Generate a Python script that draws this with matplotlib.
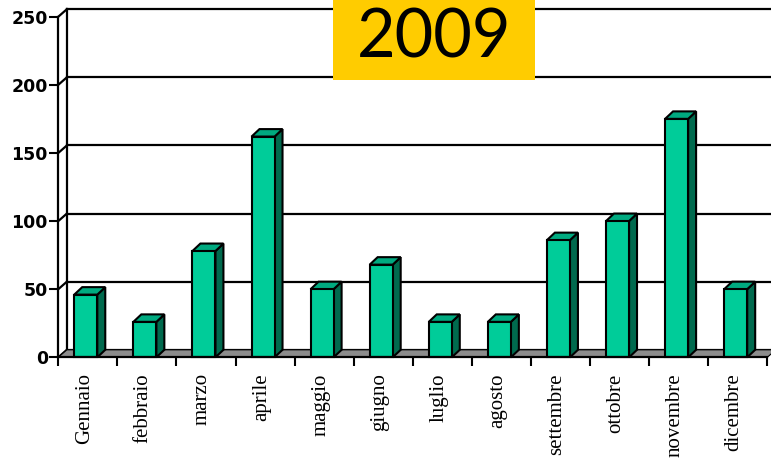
import matplotlib
matplotlib.use("Agg")
import matplotlib.pyplot as plt
from matplotlib.patches import Polygon, Rectangle

months = ["Gennaio", "febbraio", "marzo", "aprile", "maggio", "giugno",
          "luglio", "agosto", "settembre", "ottobre", "novembre", "dicembre"]
values = [46, 26, 78, 162, 50, 68, 26, 26, 86, 100, 175, 50]
y_ticks = [0, 50, 100, 150, 200, 250]
title = "2009"

front_col = "#00CC99"
side_col = "#006A4E"
top_col = "#00AA80"

fig = plt.figure(figsize=(7.71, 4.70), dpi=100)
ax = fig.add_axes([58.3 / 771, (470 - 357.3) / 470, 709 / 771, 340.6 / 470])
ax.set_xlim(0, 12)
ax.set_ylim(0, 250)

# depth offset of the pseudo-3d box
dx, dy = 0.145, 5.5

# back wall gridlines + diagonals
for v in y_ticks:
    ax.plot([dx, 12 + dx], [v + dy, v + dy], color="black", lw=1.6, clip_on=False, zorder=1)
    ax.plot([0, dx], [v, v + dy], color="black", lw=1.6, clip_on=False, zorder=1)
ax.plot([dx, dx], [dy, 250 + dy], color="black", lw=1.6, clip_on=False, zorder=1)

# floor
floor = Polygon([(0, 0), (12, 0), (12 + dx, dy), (dx, dy)], closed=True,
                facecolor="#8C8C8C", edgecolor="black", lw=0.8, clip_on=False, zorder=2)
ax.add_patch(floor)

# bars
bdx = 0.135
for i, v in enumerate(values):
    xl, xr = i + 0.27, i + 0.66
    kw = dict(closed=True, edgecolor="black", lw=1.5, clip_on=False, zorder=3, joinstyle="miter")
    ax.add_patch(Polygon([(xr, 0), (xr + bdx, dy), (xr + bdx, v + dy), (xr, v)], facecolor=side_col, **kw))
    ax.add_patch(Polygon([(xl, v), (xr, v), (xr + bdx, v + dy), (xl + bdx, v + dy)], facecolor=top_col, **kw))
    ax.add_patch(Polygon([(xl, 0), (xr, 0), (xr, v), (xl, v)], facecolor=front_col, **kw))

for s in ["top", "right"]:
    ax.spines[s].set_visible(False)
for s in ["left", "bottom"]:
    ax.spines[s].set_linewidth(1.6)
    ax.spines[s].set_zorder(4)

ax.set_yticks(y_ticks)
ax.set_yticklabels([str(t) for t in y_ticks])
ax.tick_params(axis="y", length=6.5, width=1.5, pad=1, labelsize=12.5)
for lab in ax.get_yticklabels():
    lab.set_fontweight("bold")

ax.set_xticks(range(13))
ax.set_xticklabels([])
ax.tick_params(axis="x", which="major", length=6.5, width=1.5)
ax.set_xticks([i + 0.44 for i in range(12)], minor=True)
ax.set_xticklabels(months, minor=True, rotation=90, va="top", ha="center",
                   fontfamily="Liberation Serif", fontsize=15)
ax.tick_params(axis="x", which="minor", length=0, pad=11.5)

# title box
fig.patches.append(Rectangle((333 / 771, 1 - 80 / 470), 202 / 771, 80 / 470,
                             transform=fig.transFigure, facecolor="#FFCC00",
                             edgecolor="none", zorder=5))
fig.text(434 / 771, 1 - 57 / 470, title, ha="center", va="baseline",
         fontsize=48, fontfamily="Lato", color="black", zorder=6)

fig.savefig("out.png", dpi=100)
